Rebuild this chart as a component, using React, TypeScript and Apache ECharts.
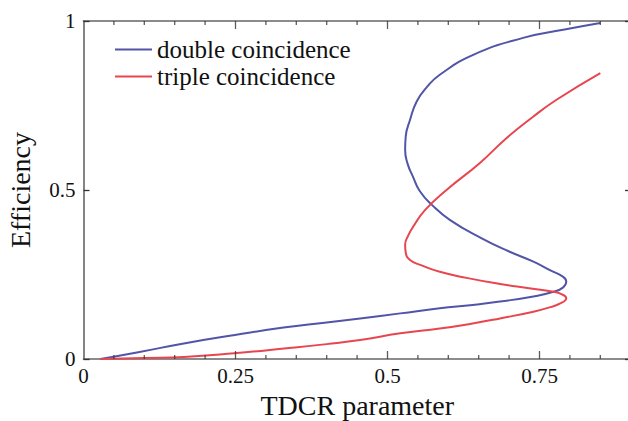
import React, { useEffect, useRef } from "react";
import * as echarts from "echarts";

const seriesNames = ["double coincidence", "triple coincidence"];

const doubleX = [0.028, 0.09, 0.165, 0.249, 0.329, 0.4, 0.455, 0.521, 0.586, 0.64, 0.685, 0.74, 0.773, 0.789, 0.794, 0.789, 0.768, 0.74, 0.7, 0.655, 0.603, 0.573, 0.553, 0.542, 0.533, 0.529, 0.53, 0.537, 0.548, 0.565, 0.586, 0.641, 0.723, 0.789, 0.85];
const doubleY = [0.0, 0.02, 0.046, 0.071, 0.093, 0.108, 0.12, 0.135, 0.15, 0.16, 0.17, 0.185, 0.199, 0.212, 0.229, 0.243, 0.262, 0.288, 0.318, 0.357, 0.411, 0.456, 0.497, 0.539, 0.578, 0.618, 0.659, 0.707, 0.762, 0.805, 0.841, 0.9, 0.95, 0.974, 0.994];

const tripleX = [0.028, 0.1, 0.165, 0.248, 0.33, 0.4, 0.455, 0.521, 0.586, 0.64, 0.685, 0.74, 0.765, 0.785, 0.794, 0.786, 0.773, 0.73, 0.685, 0.63, 0.586, 0.556, 0.537, 0.53, 0.529, 0.534, 0.542, 0.562, 0.597, 0.652, 0.696, 0.739, 0.778, 0.85];
const tripleY = [0.0, 0.003, 0.006, 0.017, 0.031, 0.044, 0.056, 0.076, 0.09, 0.105, 0.12, 0.14, 0.152, 0.165, 0.18, 0.192, 0.199, 0.21, 0.222, 0.24, 0.258, 0.277, 0.293, 0.315, 0.338, 0.365, 0.391, 0.441, 0.5, 0.58, 0.654, 0.716, 0.767, 0.846];

const xLabelValues = [0, 0.25, 0.5, 0.75];
const yLabelValues = [0, 0.5, 1];
const xMajorTicks = [0.25, 0.5, 0.75];
const xMinorTicks = [0.05, 0.1, 0.15, 0.2, 0.3, 0.35, 0.4, 0.45, 0.55, 0.6, 0.65, 0.7, 0.8, 0.85];

const FONT = "Liberation Serif";
const AXIS_GRAY = "#666666";
const TICK_COLOR = "#333333";
const BLUE = "#5254a8";
const RED = "#e8464f";

const fmt = (v: number) => (v === 0 ? "0" : String(v));

export default function App() {
  const ref = useRef<HTMLDivElement>(null);
  useEffect(() => {
    if (!ref.current) return;
    const chart = echarts.init(ref.current, null, { renderer: "svg" });
    const zip = (xs: number[], ys: number[]) => xs.map((x, i) => [x, ys[i]]);
    const base = { left: 83.5, right: -63.5, outerBoundsMode: "none", containLabel: false };
    const lineAxis = (position: string) => ({
      type: "value", gridIndex: 0, position, min: 0, max: 1, interval: 0.25,
      axisLine: { show: true, onZero: false, lineStyle: { color: AXIS_GRAY, width: 1.6 } },
      axisTick: { show: false }, axisLabel: { show: false }, splitLine: { show: false },
    });
    const tickSeries = (values: number[], atY: number, len: number) => ({
      type: "scatter", xAxisIndex: 0, yAxisIndex: 0, silent: true, clip: false,
      data: values.map((v) => [v, atY]),
      symbol: "rect", symbolSize: [1.3, len],
      symbolOffset: [0, atY === 0 ? -len / 2 : len / 2],
      itemStyle: { color: TICK_COLOR }, z: 3,
    });
    chart.setOption({
      animation: false,
      backgroundColor: "#ffffff",
      textStyle: { fontFamily: FONT },
      grid: [
        { ...base, top: 21, bottom: 62 },
        { ...base, top: 21, bottom: 62 },
        { left: 83.5, top: 21, right: -3, bottom: 62, outerBoundsMode: "none", containLabel: false },
      ],
      legend: {
        orient: "vertical",
        left: 110,
        top: 32,
        icon: "rect",
        itemWidth: 37,
        itemHeight: 2,
        itemGap: 2,
        data: seriesNames,
        textStyle: { fontFamily: FONT, fontSize: 25, color: "#111", lineHeight: 25 },
      },
      xAxis: [
        lineAxis("bottom"),
        lineAxis("top"),
        {
          type: "value", gridIndex: 1, position: "bottom", min: 0, max: 1, interval: 0.25,
          axisLine: { show: false, onZero: false }, axisTick: { show: false }, splitLine: { show: false },
          axisLabel: {
            show: true, margin: 6, fontFamily: FONT, fontSize: 21, color: "#111",
            formatter: (v: number) => (xLabelValues.some((t) => Math.abs(t - v) < 1e-9) ? fmt(v) : ""),
          },
        },
        {
          type: "value", gridIndex: 2, position: "bottom", min: 0, max: 0.9,
          axisLine: { show: false, onZero: false }, axisTick: { show: false }, axisLabel: { show: false }, splitLine: { show: false },
          name: "TDCR parameter", nameLocation: "middle", nameGap: 32,
          nameTextStyle: { fontFamily: FONT, fontSize: 28, color: "#111" },
        },
      ],
      yAxis: [
        {
          type: "value", gridIndex: 0, position: "left", min: 0, max: 1, interval: 0.5,
          axisLine: { show: true, onZero: false, lineStyle: { color: AXIS_GRAY, width: 1.6 } },
          axisTick: { show: true, inside: true, length: 6, lineStyle: { color: TICK_COLOR, width: 1.3 } },
          splitLine: { show: false },
          axisLabel: {
            show: true, margin: 8, fontFamily: FONT, fontSize: 21, color: "#111",
            formatter: (v: number) => (yLabelValues.some((t) => Math.abs(t - v) < 1e-9) ? fmt(v) : ""),
          },
          name: "Efficiency", nameLocation: "middle", nameGap: 49,
          nameTextStyle: { fontFamily: FONT, fontSize: 28, color: "#111" },
        },
        { type: "value", gridIndex: 1, min: 0, max: 1, show: false },
        {
          type: "value", gridIndex: 2, position: "right", min: 0, max: 1, interval: 0.5,
          axisLine: { show: true, onZero: false, lineStyle: { color: AXIS_GRAY, width: 1.6 } },
          axisTick: { show: true, inside: true, length: 6, lineStyle: { color: TICK_COLOR, width: 1.3 } },
          splitLine: { show: false }, axisLabel: { show: false },
        },
      ],
      series: [
        {
          name: seriesNames[0], type: "line", xAxisIndex: 0, yAxisIndex: 0,
          data: zip(doubleX, doubleY), smooth: 0.5, symbol: "none", showSymbol: false,
          lineStyle: { color: BLUE, width: 2 }, itemStyle: { color: BLUE },
        },
        {
          name: seriesNames[1], type: "line", xAxisIndex: 0, yAxisIndex: 0,
          data: zip(tripleX, tripleY), smooth: 0.5, symbol: "none", showSymbol: false,
          lineStyle: { color: RED, width: 2 }, itemStyle: { color: RED },
        },
        tickSeries(xMinorTicks, 0, 4),
        tickSeries(xMajorTicks, 0, 8),
        tickSeries(xMinorTicks, 1, 4),
        tickSeries(xMajorTicks, 1, 8),
      ],
    });
    return () => chart.dispose();
  }, []);
  return (
    <div
      ref={ref}
      style={{ position: "fixed", left: 0, top: 0, width: 628, height: 421, background: "#fff" }}
    />
  );
}
